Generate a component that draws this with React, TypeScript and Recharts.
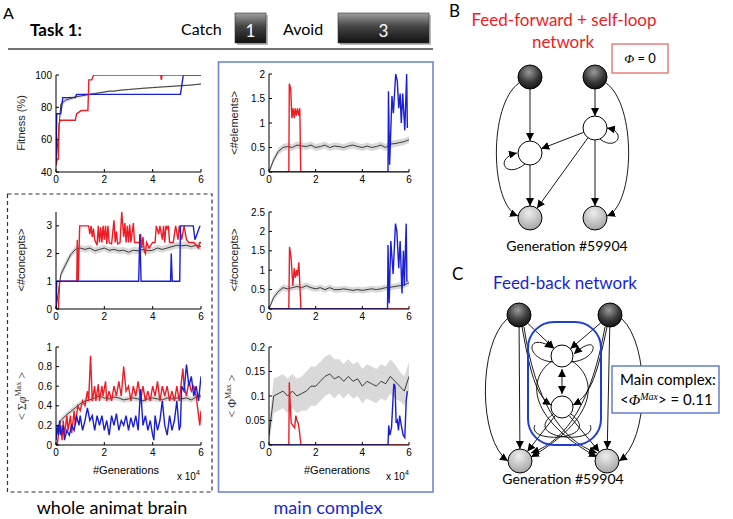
import React from "react";
import { ComposedChart, Line, Area, XAxis, YAxis } from "recharts";

// generation axis (x 10^4) used by the population mean curves
const GEN = [0, 0.2, 0.4, 0.6, 0.8, 1, 1.2, 1.4, 1.6, 1.8, 2, 2.2, 2.4, 2.6, 2.8, 3, 3.2, 3.4, 3.6, 3.8, 4, 4.2, 4.4, 4.6, 4.8, 5, 5.2, 5.4, 5.6, 5.8, 6];

// Fitness (%)
const fitMean = [45, 82, 84.5, 85.5, 86.5, 87, 87.5, 88, 88.5, 89, 89.5, 90, 90, 90.5, 90.8, 91, 91.3, 91.5, 91.8, 92, 92.2, 92.4, 92.6, 92.8, 93, 93.2, 93.4, 93.6, 93.8, 94.1, 94.4];
const fitSpread = [1, 1.5, 1.5, 1.2, 1, 1, 1, 0.8, 0.7, 0.6, 0.6, 0.6, 0.5, 0.5, 0.5, 0.5, 0.5, 0.5, 0.5, 0.5, 0.5, 0.5, 0.5, 0.5, 0.5, 0.5, 0.5, 0.5, 0.5, 0.5, 0.5];
const fitRedX = [0, 0.05, 0.1, 0.13, 0.18, 0.8, 0.85, 0.95, 1.05, 1.32, 1.36, 1.48, 1.56, 4.33, 4.36, 4.39, 6];
const fitRedY = [44, 48, 48, 70, 72, 72, 76, 77, 78, 78, 97, 97, 100, 100, 97, 100, 100];
const fitBlueX = [0, 0.03, 0.2, 0.28, 0.8, 0.85, 5.15, 5.27, 6];
const fitBlueY = [46, 76, 76, 86, 86, 88, 88, 100, 100];

// <#concepts> whole brain
const conMeanL = [0, 1.25, 1.6, 1.95, 2.15, 2.2, 2.15, 2.2, 2.1, 2.15, 2.2, 2.12, 2.15, 2.1, 2.12, 2.05, 2.12, 2.1, 2.15, 2.1, 2.12, 2.2, 2.15, 2.2, 2.25, 2.3, 2.28, 2.3, 2.25, 2.3, 2.25];
const conSpreadL = [0.05, 0.15, 0.15, 0.12, 0.12, 0.12, 0.12, 0.12, 0.12, 0.12, 0.12, 0.12, 0.12, 0.12, 0.12, 0.12, 0.12, 0.12, 0.12, 0.12, 0.12, 0.12, 0.12, 0.12, 0.12, 0.12, 0.12, 0.12, 0.12, 0.12, 0.12];
const conRedLX = [0, 0.1, 0.15, 0.86, 0.88, 0.92, 0.98, 1.35, 1.4, 1.45, 1.5, 1.55, 1.6, 1.7, 1.75, 1.8, 1.85, 1.9, 1.95, 2.0, 2.05, 2.1, 2.15, 2.2, 2.3, 2.4, 2.45, 2.5, 2.55, 2.65, 2.72, 2.8, 2.85, 2.9, 2.95, 3.0, 3.05, 3.1, 3.2, 3.25, 3.35, 3.45, 3.5, 3.55, 3.6, 3.65, 3.7, 3.75, 3.85, 4.0, 4.1, 4.15, 4.25, 4.3, 4.4, 4.45, 4.5, 4.55, 4.6, 4.65, 4.7, 4.85, 4.95, 5.05, 5.1, 5.2, 5.3, 5.4, 5.5, 5.7, 5.8, 5.9, 5.95, 6];
const conRedLY = [0, 0, 1, 1, 2.5, 1, 3, 3, 2.7, 3, 2.6, 2.9, 2.5, 2.3, 3, 2.4, 2.95, 2.4, 3, 2.5, 3, 2.35, 3, 2.4, 2.35, 3.2, 2.4, 2.8, 2.35, 2.4, 3.5, 2.6, 3.1, 2.4, 3, 2.4, 3.05, 2.4, 3.1, 2.4, 2.4, 2.4, 2.7, 2.2, 2.6, 2.1, 2.0, 2.4, 2.2, 2.4, 2.4, 3, 2.7, 3, 2.5, 3, 2.4, 3, 2.9, 3, 2.4, 2.4, 3, 2.5, 3, 2.5, 3, 2.5, 2.4, 2.4, 2.3, 2.2, 2.4, 2.4];
const conBlueLX = [0, 0.03, 3.42, 3.47, 3.52, 4.74, 4.77, 4.81, 5.12, 5.15, 5.68, 5.75, 5.96];
const conBlueLY = [0, 1, 1, 2.7, 1, 1, 2, 1, 1, 3, 3, 2.5, 3];

// < sum phi^Max > whole brain
const phiSumMean = [0.12, 0.25, 0.3, 0.34, 0.38, 0.42, 0.45, 0.46, 0.48, 0.5, 0.48, 0.47, 0.49, 0.48, 0.46, 0.47, 0.48, 0.47, 0.45, 0.47, 0.48, 0.47, 0.46, 0.48, 0.47, 0.48, 0.47, 0.48, 0.46, 0.49, 0.5];
const phiSumSpread = [0.02, 0.03, 0.03, 0.03, 0.03, 0.03, 0.03, 0.03, 0.03, 0.03, 0.03, 0.03, 0.03, 0.03, 0.03, 0.03, 0.03, 0.03, 0.03, 0.03, 0.03, 0.03, 0.03, 0.03, 0.03, 0.03, 0.03, 0.03, 0.03, 0.03, 0.03];
const phiSumRedX = [0, 0.05, 0.1, 0.2, 0.25, 0.3, 0.35, 0.45, 0.5, 0.6, 0.65, 0.75, 0.8, 0.9, 1.0, 1.1, 1.2, 1.3, 1.35, 1.43, 1.5, 1.6, 1.65, 1.75, 1.8, 1.9, 1.95, 2.05, 2.1, 2.2, 2.3, 2.4, 2.5, 2.6, 2.7, 2.8, 2.9, 3.0, 3.1, 3.2, 3.3, 3.4, 3.5, 3.6, 3.7, 3.8, 3.9, 4.0, 4.1, 4.2, 4.3, 4.4, 4.5, 4.6, 4.7, 4.8, 4.9, 5.0, 5.1, 5.25, 5.3, 5.4, 5.5, 5.6, 5.7, 5.8, 5.95, 6];
const phiSumRedY = [0, 0, 0.1, 0.2, 0.05, 0.25, 0.1, 0.3, 0.15, 0.3, 0.12, 0.35, 0.2, 0.4, 0.35, 0.45, 0.4, 0.55, 0.45, 0.91, 0.45, 0.6, 0.45, 0.62, 0.45, 0.6, 0.5, 0.65, 0.45, 0.55, 0.45, 0.6, 0.5, 0.65, 0.5, 0.8, 0.55, 0.6, 0.45, 0.6, 0.5, 0.65, 0.45, 0.6, 0.45, 0.55, 0.45, 0.6, 0.5, 0.65, 0.45, 0.6, 0.5, 0.6, 0.45, 0.55, 0.45, 0.6, 0.45, 0.78, 0.6, 0.5, 0.65, 0.55, 0.6, 0.5, 0.2, 0.35];
const phiSumBlueX = [0, 0.05, 0.1, 0.15, 0.2, 0.3, 0.35, 0.45, 0.55, 0.65, 0.75, 0.85, 0.95, 1.0, 1.1, 1.2, 1.3, 1.4, 1.5, 1.6, 1.7, 1.8, 1.9, 2.0, 2.1, 2.2, 2.3, 2.4, 2.5, 2.6, 2.7, 2.8, 2.9, 3.0, 3.1, 3.2, 3.3, 3.4, 3.5, 3.6, 3.7, 3.8, 3.9, 4.0, 4.05, 4.1, 4.2, 4.3, 4.4, 4.5, 4.6, 4.7, 4.8, 4.9, 5.0, 5.1, 5.15, 5.2, 5.3, 5.4, 5.5, 5.6, 5.7, 5.8, 5.9, 6];
const phiSumBlueY = [0.05, 0.2, 0.1, 0.25, 0.1, 0.2, 0.05, 0.15, 0.1, 0.2, 0.15, 0.3, 0.2, 0.3, 0.15, 0.25, 0.38, 0.25, 0.3, 0.15, 0.3, 0.2, 0.3, 0.15, 0.25, 0.1, 0.3, 0.2, 0.32, 0.15, 0.25, 0.2, 0.3, 0.15, 0.28, 0.18, 0.3, 0.15, 0.57, 0.2, 0.3, 0.15, 0.25, 0.1, 0.05, 0.3, 0.15, 0.25, 0.45, 0.2, 0.1, 0.3, 0.15, 0.25, 0.45, 0.15, 0.2, 0.6, 0.55, 0.82, 0.6, 0.7, 0.5, 0.6, 0.45, 0.7];

// <#elements> main complex
const elMean = [0, 0.25, 0.42, 0.5, 0.52, 0.5, 0.55, 0.53, 0.52, 0.55, 0.5, 0.52, 0.55, 0.5, 0.53, 0.52, 0.5, 0.53, 0.55, 0.52, 0.5, 0.53, 0.5, 0.52, 0.55, 0.5, 0.57, 0.58, 0.6, 0.62, 0.66];
const elSpread = [0.03, 0.07, 0.07, 0.07, 0.07, 0.07, 0.07, 0.07, 0.07, 0.07, 0.07, 0.07, 0.07, 0.07, 0.07, 0.07, 0.07, 0.07, 0.07, 0.07, 0.07, 0.07, 0.07, 0.07, 0.07, 0.07, 0.07, 0.07, 0.07, 0.07, 0.07];
const elRedX = [0, 0.85, 0.87, 0.93, 0.98, 1.03, 1.08, 1.12, 1.17, 1.22, 1.28, 1.32, 1.36, 6];
const elRedY = [0, 0, 1.8, 1.7, 1.1, 1.3, 1.1, 1.3, 1.15, 1.3, 1.15, 1.3, 0, 0];
const elBlueX = [0, 5.1, 5.12, 5.17, 5.27, 5.33, 5.43, 5.5, 5.56, 5.62, 5.67, 5.73, 5.82, 5.9, 5.93];
const elBlueY = [0, 0, 1.65, 0.15, 1.55, 1.2, 2.0, 1.85, 1.3, 1.6, 1.0, 1.6, 0.85, 2.0, 0.9];

// <#concepts> main complex
const conMeanR = [0, 0.3, 0.45, 0.55, 0.52, 0.55, 0.58, 0.55, 0.6, 0.55, 0.52, 0.55, 0.5, 0.55, 0.5, 0.5, 0.52, 0.5, 0.48, 0.5, 0.48, 0.5, 0.52, 0.5, 0.52, 0.55, 0.56, 0.58, 0.6, 0.62, 0.68];
const conSpreadR = [0.03, 0.08, 0.08, 0.08, 0.08, 0.08, 0.08, 0.08, 0.08, 0.08, 0.08, 0.08, 0.08, 0.08, 0.08, 0.08, 0.08, 0.08, 0.08, 0.08, 0.08, 0.08, 0.08, 0.08, 0.08, 0.08, 0.08, 0.08, 0.08, 0.08, 0.08];
const conRedRX = [0, 0.85, 0.88, 0.95, 1.02, 1.08, 1.13, 1.18, 1.22, 1.28, 1.33, 1.37, 6];
const conRedRY = [0, 0, 1.6, 1.3, 0.6, 1.05, 0.8, 1.0, 0.85, 1.2, 0.5, 0, 0];
const conBlueRX = [0, 5.08, 5.1, 5.15, 5.22, 5.32, 5.42, 5.48, 5.56, 5.62, 5.7, 5.76, 5.8, 5.88, 5.91];
const conBlueRY = [0, 0, 1.65, 0.15, 1.75, 0.9, 2.2, 2.0, 1.05, 1.75, 0.4, 1.5, 0.6, 2.2, 0.7];

// < phi^Max > main complex
const phiMaxMean = [0.02, 0.1, 0.105, 0.11, 0.1, 0.11, 0.1, 0.105, 0.11, 0.12, 0.12, 0.13, 0.14, 0.145, 0.135, 0.14, 0.13, 0.14, 0.13, 0.135, 0.12, 0.13, 0.125, 0.12, 0.13, 0.125, 0.14, 0.13, 0.12, 0.11, 0.14];
const phiMaxSpread = [0.02, 0.035, 0.035, 0.035, 0.035, 0.035, 0.035, 0.035, 0.04, 0.04, 0.04, 0.04, 0.04, 0.04, 0.04, 0.035, 0.035, 0.035, 0.035, 0.035, 0.035, 0.035, 0.035, 0.035, 0.035, 0.035, 0.035, 0.035, 0.03, 0.03, 0.03];
const phiMaxRedX = [0, 0.85, 0.87, 0.9, 0.95, 1.02, 1.1, 1.15, 1.2, 1.25, 1.3, 1.37, 6];
const phiMaxRedY = [0, 0, 0.128, 0.09, 0.045, 0.04, 0.035, 0.06, 0.05, 0.045, 0.03, 0, 0];
const phiMaxBlueX = [0, 5.1, 5.13, 5.18, 5.25, 5.35, 5.4, 5.45, 5.5, 5.55, 5.6, 5.67, 5.75, 5.82, 5.88, 5.93];
const phiMaxBlueY = [0, 0, 0.04, 0.02, 0.035, 0.125, 0.12, 0.045, 0.05, 0.03, 0.06, 0.04, 0.02, 0.015, 0.09, 0.11];

const X_TICKS = [0, 2, 4, 6];
const RED = "#ee1c24";
const BLUE = "#1a1fd6";
const FRAME_BLUE = "#6f86d8";
const AXIS_FONT = "'Liberation Sans', Arial, sans-serif";
const TEXT_FONT = "Lato, 'Open Sans', sans-serif";

const pts = (xs: number[], ys: number[]) => xs.map((x, i) => ({ x, y: ys[i] }));
const bandRows = (mean: number[], spread: number[]) =>
  GEN.map((x, i) => ({ x, mean: mean[i], band: [mean[i] - spread[i], mean[i] + spread[i]] }));

interface PanelProps {
  left: number;
  top: number;
  w: number;
  h: number;
  yDomain: [number, number];
  yTicks: number[];
  mean: number[];
  spread: number[];
  red: { x: number; y: number }[];
  blue: { x: number; y: number }[];
  redOnTop?: boolean;
}

function Panel({ left, top, w, h, yDomain, yTicks, mean, spread, red, blue, redOnTop }: PanelProps) {
  const tick = { fontSize: 10, fill: "#000", fontFamily: AXIS_FONT };
  const redLine = (
    <Line key="r" data={red} dataKey="y" type="linear" stroke={RED} strokeWidth={1.4} dot={false} activeDot={false} isAnimationActive={false} />
  );
  const blueLine = (
    <Line key="b" data={blue} dataKey="y" type="linear" stroke={BLUE} strokeWidth={1.4} dot={false} activeDot={false} isAnimationActive={false} />
  );
  return (
    <div style={{ position: "absolute", left: left - 40, top: top - 8 }}>
      <ComposedChart width={w + 50} height={h + 28} data={bandRows(mean, spread)} margin={{ top: 8, right: 10, bottom: 0, left: 0 }}>
        <XAxis type="number" dataKey="x" domain={[0, 6]} ticks={X_TICKS} interval={0} height={20} stroke="#000" tickSize={-3} tickMargin={7} tick={tick} allowDataOverflow />
        <YAxis type="number" domain={yDomain} ticks={yTicks} interval={0} width={40} stroke="#000" tickSize={-3} tickMargin={7} tick={tick} allowDataOverflow />
        <Area dataKey="band" type="linear" stroke="none" fill="#d9d9d9" fillOpacity={1} dot={false} activeDot={false} isAnimationActive={false} />
        <Line dataKey="mean" type="linear" stroke="#111" strokeWidth={0.8} dot={false} activeDot={false} isAnimationActive={false} />
        {redOnTop ? [blueLine, redLine] : [redLine, blueLine]}
      </ComposedChart>
    </div>
  );
}

// straight edge between two node centres, trimmed to the circle rims
function seg(ax: number, ay: number, bx: number, by: number, ra = 12, rb = 12) {
  const dx = bx - ax;
  const dy = by - ay;
  const L = Math.hypot(dx, dy);
  return `M${ax + (dx / L) * ra},${ay + (dy / L) * ra} L${bx - (dx / L) * rb},${by - (dy / L) * rb}`;
}

function Node({ cx, cy, kind, r = 12 }: { cx: number; cy: number; kind: "dark" | "white" | "gray"; r?: number }) {
  const fill = kind === "dark" ? "url(#gDark)" : kind === "gray" ? "url(#gGray)" : "#fff";
  return <circle cx={cx} cy={cy} r={r} fill={fill} stroke="#000" strokeWidth={1} />;
}

function Overlay() {
  const e = { fill: "none", stroke: "#000", strokeWidth: 0.9, markerEnd: "url(#arr)" } as const;
  const thin = { fill: "none", stroke: "#000", strokeWidth: 0.9 } as const;
  return (
    <svg width={733} height={519} style={{ position: "absolute", left: 0, top: 0, pointerEvents: "none" }}>
      <defs>
        <marker id="arr" viewBox="0 0 10 10" refX={10} refY={5} markerWidth={8} markerHeight={8} markerUnits="userSpaceOnUse" orient="auto-start-reverse">
          <path d="M0,0 L10,5 L0,10 z" fill="#000" />
        </marker>
        <radialGradient id="gDark" cx="45%" cy="30%" r="70%">
          <stop offset="0%" stopColor="#9a9a9a" />
          <stop offset="60%" stopColor="#3a3a3a" />
          <stop offset="100%" stopColor="#151515" />
        </radialGradient>
        <radialGradient id="gGray" cx="45%" cy="30%" r="70%">
          <stop offset="0%" stopColor="#eeeeee" />
          <stop offset="100%" stopColor="#a5a5a5" />
        </radialGradient>
        <linearGradient id="gBox" x1="0" y1="0" x2="0" y2="1">
          <stop offset="0%" stopColor="#a0a0a0" />
          <stop offset="45%" stopColor="#444" />
          <stop offset="100%" stopColor="#111" />
        </linearGradient>
      </defs>

      {/* header */}
      <text x={3} y={19} fontFamily={TEXT_FONT} fontSize={16}>A</text>
      <text x={30} y={36} fontFamily={TEXT_FONT} fontSize={17} fontWeight="bold">Task 1:</text>
      <text x={181} y={35} fontFamily={TEXT_FONT} fontSize={16}>Catch</text>
      <rect x={237} y={15} width={31} height={30} fill="#bbb" />
      <rect x={235} y={13} width={31} height={30} fill="url(#gBox)" stroke="#333" strokeWidth={0.6} />
      <text x={250.5} y={37} textAnchor="middle" fontFamily={TEXT_FONT} fontSize={17} fill="#fff">1</text>
      <text x={283} y={35} fontFamily={TEXT_FONT} fontSize={16}>Avoid</text>
      <rect x={340} y={15} width={91} height={30} fill="#bbb" />
      <rect x={338} y={13} width={91} height={30} fill="url(#gBox)" stroke="#333" strokeWidth={0.6} />
      <text x={383.5} y={37} textAnchor="middle" fontFamily={TEXT_FONT} fontSize={17} fill="#fff">3</text>
      <line x1={8} y1={49} x2={433} y2={49} stroke="#444" strokeWidth={1.5} />

      {/* frames */}
      <rect x={7.5} y={194} width={204.5} height={298} fill="none" stroke="#333" strokeWidth={1.2} strokeDasharray="4 3" />
      <rect x={218.5} y={62} width={214.5} height={430} fill="none" stroke={FRAME_BLUE} strokeWidth={1.6} />
      <text x={112} y={514} textAnchor="middle" fontFamily={TEXT_FONT} fontSize={18}>whole animat brain</text>
      <text x={328} y={514} textAnchor="middle" fontFamily={TEXT_FONT} fontSize={18} fill={BLUE}>main complex</text>

      {/* y titles */}
      <g fontFamily={AXIS_FONT} fontSize={11} fill="#222">
        <text x={0} y={0} transform="translate(25,123) rotate(-90)" textAnchor="middle">Fitness (%)</text>
        <text x={0} y={0} transform="translate(25,260) rotate(-90)" textAnchor="middle">{"<#concepts>"}</text>
        <text x={0} y={0} transform="translate(238,123) rotate(-90)" textAnchor="middle">{"<#elements>"}</text>
        <text x={0} y={0} transform="translate(238,260) rotate(-90)" textAnchor="middle">{"<#concepts>"}</text>
      </g>
      <g fontFamily="'Liberation Serif', 'DejaVu Serif', serif" fontSize={12} fill="#333">
        <text x={0} y={0} transform="translate(26,396) rotate(-90)" textAnchor="middle">
          {"<  Σ"}
          <tspan fontStyle="italic">φ</tspan>
          <tspan fontSize={8} dy={-5}>Max</tspan>
          <tspan dy={5}>{" >"}</tspan>
        </text>
        <text x={0} y={0} transform="translate(236,396) rotate(-90)" textAnchor="middle">
          {"<  Φ"}
          <tspan fontSize={8} dy={-5}>Max</tspan>
          <tspan dy={5}>{" >"}</tspan>
        </text>
      </g>

      {/* x titles */}
      <g fontFamily={AXIS_FONT} fontSize={11} fill="#000">
        <text x={126} y={474} textAnchor="middle">#Generations</text>
        <text x={337} y={474} textAnchor="middle">#Generations</text>
        <text x={177} y={480} fontSize={10}>x 10<tspan fontSize={7} dy={-5}>4</tspan></text>
        <text x={386} y={480} fontSize={10}>x 10<tspan fontSize={7} dy={-5}>4</tspan></text>
      </g>

      {/* panel B */}
      <text x={449} y={17} fontFamily={TEXT_FONT} fontSize={17}>B</text>
      <text x={564} y={26} textAnchor="middle" fontFamily={TEXT_FONT} fontSize={17} fill={RED}>Feed-forward + self-loop</text>
      <text x={563} y={48} textAnchor="middle" fontFamily={TEXT_FONT} fontSize={17} fill={RED}>network</text>
      <rect x={612} y={44} width={56} height={29} fill="#fff" stroke="#e06060" strokeWidth={1.2} />
      <text x={640} y={63} textAnchor="middle" fontFamily={TEXT_FONT} fontSize={13}>
        <tspan fontFamily="'Liberation Serif', serif" fontStyle="italic">Φ</tspan> = 0
      </text>
      <path d={seg(530, 77, 530, 153)} {...e} />
      <path d={seg(595, 77, 595, 128)} {...e} />
      <path d={seg(595, 128, 530, 153)} {...e} />
      <path d={seg(595, 128, 530, 218)} {...e} />
      <path d={seg(530, 153, 530, 218)} {...e} />
      <path d={seg(595, 128, 595, 218)} {...e} />
      <path d="M519,83 C488,105 490,205 518,216" {...e} />
      <path d="M606,83 C637,105 635,205 607,216" {...e} />
      <path d="M525,164 C505,180 494,158 517,153" {...e} />
      <path d="M600,139 C616,152 628,132 607,128" {...e} />
      <Node cx={530} cy={77} kind="dark" />
      <Node cx={595} cy={77} kind="dark" />
      <Node cx={595} cy={128} kind="white" />
      <Node cx={530} cy={153} kind="white" />
      <Node cx={530} cy={218} kind="gray" />
      <Node cx={595} cy={218} kind="gray" />
      <text x={567} y={251} textAnchor="middle" fontFamily={TEXT_FONT} fontSize={14}>Generation #59904</text>

      {/* panel C */}
      <text x={452} y={280} fontFamily={TEXT_FONT} fontSize={17}>C</text>
      <text x={565} y={289} textAnchor="middle" fontFamily={TEXT_FONT} fontSize={17} fill={BLUE}>Feed-back network</text>
      <path d="M507,319 C478,345 478,440 508,461" {...e} />
      <path d="M622,319 C650,345 650,440 619,461" {...e} />
      <path d={seg(519, 315, 520, 461)} {...e} />
      <path d={seg(610, 315, 607, 461)} {...e} />
      <path d={seg(519, 315, 562, 356, 12, 11)} {...e} />
      <path d={seg(610, 315, 562, 356, 12, 11)} {...e} />
      <path d="M522,327 C530,370 535,395 551,405" {...e} />
      <path d="M607,327 C598,370 592,395 573,405" {...e} />
      <path d="M524,327 C535,400 560,440 597,453" {...e} />
      <path d="M605,327 C592,400 568,440 531,453" {...e} />
      <path d="M552,361 C525,380 530,420 597,457" {...e} />
      <path d="M572,361 C600,380 595,420 531,457" {...e} />
      <path d={seg(562, 407, 520, 461, 11, 12)} {...e} />
      <path d={seg(562, 407, 607, 461, 11, 12)} {...e} />
      <path d="M553,362 C525,360 525,330 553,348" {...e} />
      <path d="M571,362 C600,360 600,330 574,354" {...e} />
      <path d="M553,414 C520,440 600,445 590,425" {...thin} />
      <path d="M571,414 C605,440 525,445 535,425" {...thin} />
      <path d="M562,369 L562,394" fill="none" stroke="#000" strokeWidth={0.9} markerStart="url(#arr)" markerEnd="url(#arr)" />
      <rect x={528} y={322} width={73} height={123} rx={26} fill="none" stroke="#1f3fd0" strokeWidth={2} />
      <Node cx={519} cy={315} kind="dark" />
      <Node cx={610} cy={315} kind="dark" />
      <Node cx={562} cy={356} kind="white" r={11} />
      <Node cx={562} cy={407} kind="white" r={11} />
      <Node cx={520} cy={461} kind="gray" />
      <Node cx={607} cy={461} kind="gray" />
      <rect x={612} y={366} width={107} height={47} fill="#fff" stroke="#3d5ec8" strokeWidth={1.2} />
      <text x={620} y={385} fontFamily={TEXT_FONT} fontSize={15}>Main complex:</text>
      <text x={620} y={405} fontFamily={TEXT_FONT} fontSize={15}>
        {"<"}
        <tspan fontFamily="'Liberation Serif', serif" fontStyle="italic">Φ</tspan>
        <tspan fontFamily="'Liberation Serif', serif" fontStyle="italic" fontSize={10} dy={-5}>Max</tspan>
        <tspan dy={5}>{"> = 0.11"}</tspan>
      </text>
      <text x={563} y={484} textAnchor="middle" fontFamily={TEXT_FONT} fontSize={14}>Generation #59904</text>
    </svg>
  );
}

export default function App() {
  return (
    <div style={{ position: "absolute", left: 0, top: 0, width: 733, height: 519, background: "#fff", overflow: "hidden" }}>
      <Panel left={56} top={75} w={145} h={97} yDomain={[40, 100]} yTicks={[40, 60, 80, 100]} mean={fitMean} spread={fitSpread} red={pts(fitRedX, fitRedY)} blue={pts(fitBlueX, fitBlueY)} redOnTop />
      <Panel left={56} top={212} w={145} h={97} yDomain={[0, 3.5]} yTicks={[0, 1, 2, 3]} mean={conMeanL} spread={conSpreadL} red={pts(conRedLX, conRedLY)} blue={pts(conBlueLX, conBlueLY)} />
      <Panel left={56} top={347} w={145} h={98} yDomain={[0, 1]} yTicks={[0, 0.2, 0.4, 0.6, 0.8, 1]} mean={phiSumMean} spread={phiSumSpread} red={pts(phiSumRedX, phiSumRedY)} blue={pts(phiSumBlueX, phiSumBlueY)} />
      <Panel left={269} top={74} w={140} h={98} yDomain={[0, 2]} yTicks={[0, 0.5, 1, 1.5, 2]} mean={elMean} spread={elSpread} red={pts(elRedX, elRedY)} blue={pts(elBlueX, elBlueY)} />
      <Panel left={269} top={212} w={140} h={97} yDomain={[0, 2.5]} yTicks={[0, 0.5, 1, 1.5, 2, 2.5]} mean={conMeanR} spread={conSpreadR} red={pts(conRedRX, conRedRY)} blue={pts(conBlueRX, conBlueRY)} />
      <Panel left={269} top={347} w={140} h={98} yDomain={[0, 0.2]} yTicks={[0, 0.05, 0.1, 0.15, 0.2]} mean={phiMaxMean} spread={phiMaxSpread} red={pts(phiMaxRedX, phiMaxRedY)} blue={pts(phiMaxBlueX, phiMaxBlueY)} />
      <Overlay />
    </div>
  );
}
